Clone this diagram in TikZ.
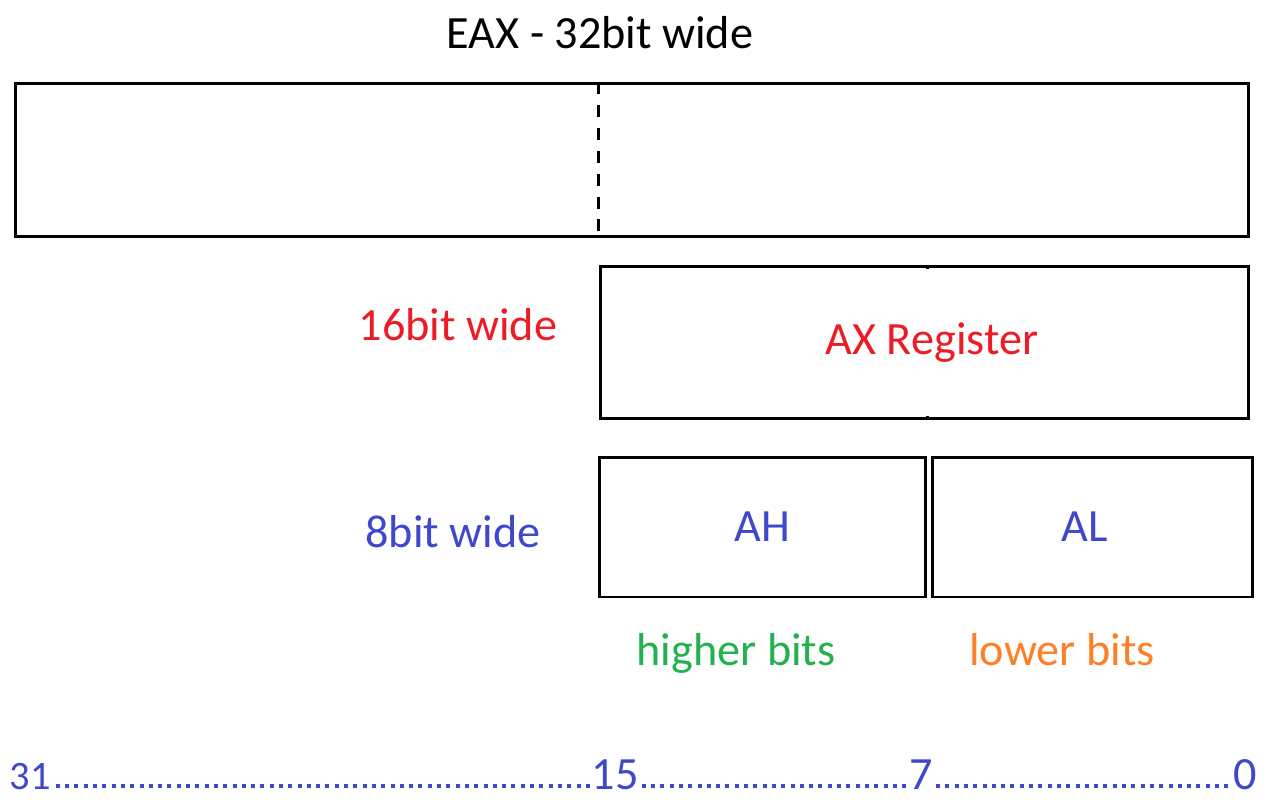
\documentclass[tikz,border=0pt]{standalone}
\usepackage{fontspec}
\setmainfont{Carlito}
\usetikzlibrary{positioning}
\definecolor{regred}{RGB}{237,28,36}
\definecolor{regblue}{RGB}{63,72,204}
\definecolor{reggreen}{RGB}{34,177,76}
\definecolor{regorange}{RGB}{255,127,39}
\tikzset{
  regbox/.style={draw,line width=1.7pt,inner sep=0pt},
  bigtext/.style={font=\fontsize{26.3}{31}\selectfont},
  rulerdots/.style={regblue,line width=0.08cm,dash pattern=on 0.08cm off 0.106cm}
}
\begin{document}
\begin{tikzpicture}[x=0.02cm,y=-0.02cm]
        \useasboundingbox (0,0) rectangle (1270,801);
        %% Title
        \node[bigtext] (title) at (600,33) {EAX - 32bit wide};
        %% Registers
        \node[regbox,minimum width=24.68cm,minimum height=3.08cm] (eax) at (632,160) {};
        \node[regbox,minimum width=12.98cm,minimum height=3.06cm,bigtext,text=regred] (ax) at (924.5,342.5) {\hspace{0.3cm}AX Register};
        \node[regbox,minimum width=6.54cm,minimum height=2.8cm,bigtext,text=regblue] (ah) at (762.5,527) {AH};
        \node[regbox,minimum width=6.42cm,minimum height=2.8cm,bigtext,text=regblue] (al) at (1092.5,527) {\hspace{-0.3cm}AL};
        \draw[line width=1.5pt,dash pattern=on 0.24cm off 0.22cm] (eax.north -| ax.west) -- (eax.south -| ax.west);
        \draw[line width=1.7pt] (ax.north -| ah.east) -- ++(0,4);
        \draw[line width=1.7pt] (ax.south -| ah.east) -- ++(0,-4);
        %% Widths
        \node[bigtext,text=regred] (w16) at (458,325) {16bit wide};
        \node[bigtext,text=regblue] (w8) at (453,532) {8bit wide};
        \node[bigtext,text=reggreen] (hi) at (736,653) {higher bits};
        \node[bigtext,text=regorange] (lo) at (1062,650) {lower bits};
        %% Bit numbers
        \node[anchor=base,inner sep=0pt,text=regblue,font=\fontsize{23}{27}\selectfont] (b31) at (30,789) {31};
        \node[anchor=base,inner sep=0pt,text=regblue,bigtext] (b15) at (615,789) {15};
        \node[anchor=base,inner sep=0pt,text=regblue,bigtext] (b7) at (921,789) {7};
        \node[anchor=base,inner sep=0pt,text=regblue,bigtext] (b0) at (1245,789) {0};
        \draw[rulerdots] ([xshift=0.1cm,yshift=0.06cm]b31.base east) -- ([xshift=-0.02cm,yshift=0.06cm]b15.base west);
        \draw[rulerdots] ([xshift=0.06cm,yshift=0.06cm]b15.base east) -- ([xshift=-0.02cm,yshift=0.06cm]b7.base west);
        \draw[rulerdots] ([xshift=0.06cm,yshift=0.06cm]b7.base east) -- ([xshift=-0.02cm,yshift=0.06cm]b0.base west);
\end{tikzpicture}
\end{document}
